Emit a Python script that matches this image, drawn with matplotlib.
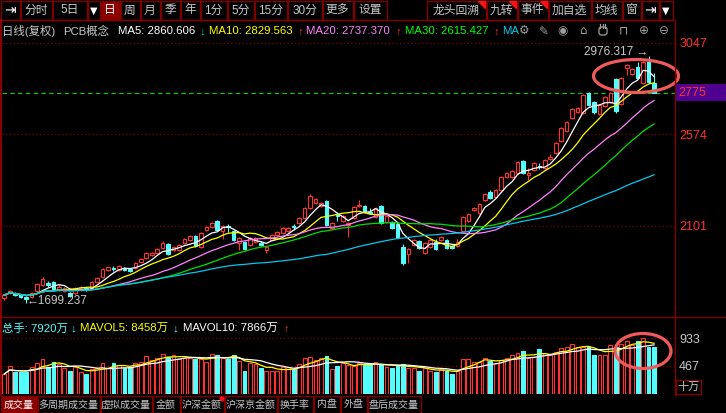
#Recreates a daily K-line screen (PCB concept index) with its volume pane
import matplotlib.pyplot as plt
from matplotlib.patches import Rectangle, Ellipse, Polygon, Circle, FancyBboxPatch
import numpy as np
import pandas as pd

plt.rcParams['font.family'] = ['Liberation Sans', 'Noto Sans CJK SC', 'DejaVu Sans']

W, H = 726, 413
UP = '#ff3232'
DOWN = '#54fcfc'
FRAME = '#800000'
GRAY = '#c8c8c8'

#Daily bars
opens = [1726, 1751, 1755, 1743, 1731, 1734, 1763, 1795, 1805, 1808,
         1769, 1765, 1752, 1752, 1773, 1779, 1777, 1812, 1834, 1872,
         1882, 1872, 1881, 1876, 1881, 1915, 1936, 1950, 1958, 1984,
         2005, 1975, 1975, 2012, 2027, 2048, 1991, 2079, 2094, 2125,
         2074, 2097, 2074, 2012, 2017, 2001, 2017, 2012, 1975, 2027,
         2053, 2063, 2074, 2097, 2115, 2141, 2193, 2218, 2203, 2229,
         2089, 2154, 2125, 2105, 2141, 2203, 2203, 2174, 2146, 2203,
         2120, 2120, 2110, 1991, 1955, 2001, 2022, 1960, 1991, 2017,
         2027, 2027, 1996, 1996, 2074, 2125, 2182, 2167, 2234, 2275,
         2249, 2286, 2353, 2353, 2374, 2436, 2363, 2389, 2412, 2399,
         2446, 2477, 2539, 2591, 2658, 2689, 2684, 2787, 2741, 2679,
         2720, 2742, 2860, 2730, 2916, 2885, 2921, 2839, 2947, 2839]
closes = [1743, 1763, 1743, 1731, 1721, 1751, 1800, 1824, 1795, 1775,
          1786, 1777, 1738, 1777, 1779, 1771, 1812, 1832, 1877, 1886,
          1877, 1893, 1874, 1867, 1910, 1927, 1958, 1961, 1979, 2010,
          1955, 1991, 2001, 2032, 2048, 1996, 2063, 2094, 2115, 2079,
          2100, 2092, 2027, 2037, 1981, 2037, 2037, 2001, 1991, 2053,
          2069, 2089, 2089, 2092, 2141, 2193, 2255, 2239, 2218, 2105,
          2115, 2149, 2151, 2115, 2198, 2208, 2177, 2169, 2193, 2115,
          2151, 2089, 2043, 1908, 1981, 2027, 1986, 2012, 2027, 1981,
          2043, 1986, 1986, 2017, 2146, 2162, 2192, 2213, 2265, 2244,
          2286, 2353, 2374, 2384, 2430, 2374, 2374, 2425, 2407, 2441,
          2456, 2529, 2606, 2637, 2704, 2710, 2777, 2725, 2689, 2725,
          2766, 2785, 2694, 2865, 2932, 2912, 2865, 2947, 2844, 2788]
highs = [1750, 1768, 1760, 1747, 1736, 1756, 1805, 1835, 1815, 1815,
         1792, 1782, 1757, 1782, 1787, 1785, 1816, 1838, 1882, 1890,
         1895, 1897, 1886, 1882, 1914, 1932, 1963, 1966, 1984, 2020,
         2010, 1996, 2006, 2037, 2053, 2053, 2068, 2099, 2120, 2130,
         2104, 2108, 2080, 2042, 2022, 2042, 2042, 2020, 1996, 2058,
         2074, 2094, 2094, 2110, 2146, 2198, 2263, 2245, 2223, 2234,
         2120, 2172, 2156, 2120, 2203, 2236, 2210, 2192, 2198, 2208,
         2156, 2126, 2115, 2006, 1986, 2032, 2027, 2017, 2032, 2030,
         2048, 2032, 2001, 2030, 2151, 2167, 2198, 2218, 2270, 2285,
         2291, 2358, 2380, 2390, 2436, 2442, 2400, 2430, 2425, 2446,
         2470, 2534, 2611, 2642, 2710, 2716, 2782, 2792, 2746, 2730,
         2771, 2790, 2865, 2870, 2937, 2918, 2945, 2952, 2976.317, 2890]
lows = [1718, 1746, 1738, 1725, 1699.237, 1729, 1758, 1790, 1784, 1770,
        1764, 1760, 1732, 1748, 1765, 1766, 1773, 1808, 1830, 1868,
        1866, 1868, 1868, 1862, 1877, 1911, 1931, 1946, 1954, 1980,
        1950, 1971, 1971, 2007, 2022, 1990, 1986, 2074, 2090, 2074,
        2032, 2070, 2020, 1975, 1976, 1996, 2012, 1996, 1960, 2022,
        2048, 2058, 2069, 2080, 2110, 2136, 2188, 2213, 2198, 2100,
        2084, 2125, 2120, 2043, 2136, 2198, 2172, 2160, 2141, 2110,
        2115, 2084, 2037, 1898, 1908, 1996, 1980, 1955, 1986, 1976,
        2022, 1980, 1980, 1991, 2069, 2120, 2177, 2162, 2229, 2239,
        2244, 2280, 2348, 2348, 2368, 2368, 2338, 2384, 2395, 2394,
        2441, 2472, 2534, 2586, 2653, 2684, 2679, 2720, 2679, 2674,
        2715, 2737, 2684, 2725, 2880, 2880, 2860, 2834, 2839, 2787]
#Volume in units of 十万 (hundred thousand)
volumes = [333, 467, 372, 372, 372, 445, 512, 585, 456, 540,
           500, 428, 383, 445, 372, 327, 411, 439, 512, 428,
           512, 484, 439, 445, 523, 540, 635, 568, 596, 663,
           624, 652, 585, 607, 607, 580, 585, 540, 669, 652,
           596, 585, 652, 557, 383, 523, 495, 439, 383, 383,
           383, 445, 445, 417, 495, 596, 613, 568, 596, 635,
           417, 472, 512, 484, 472, 512, 484, 495, 529, 484,
           456, 439, 472, 495, 439, 439, 383, 428, 383, 372,
           417, 383, 333, 383, 585, 585, 540, 540, 607, 551,
           523, 568, 607, 652, 680, 719, 596, 624, 753, 680,
           652, 697, 764, 781, 831, 792, 792, 792, 652, 652,
           652, 820, 792, 831, 887, 820, 892, 943, 792, 792]

priceTicks = [2101, 2574, 3047]
volTicks = [467, 933]
lastLabel = '2775'

maPeriods = [5, 10, 20, 30, 60]
maColors = ['#ffffff', '#ffff00', '#ff80ff', '#00e000', '#00c8f0']
volMaPeriods = [5, 10]
volMaColors = ['#ffff00', '#ffffff']

topButtons = [(0, 20, '⇥'), (20, 52, '分时'), (52, 87, '5日'), (87, 100, '▼'),
              (100, 120, '日'), (120, 140, '周'), (140, 160, '月'), (160, 180, '季'),
              (180, 200, '年'), (200, 227, '1分'), (227, 254, '5分'), (254, 287, '15分'),
              (287, 322, '30分'), (322, 353, '更多'), (353, 387, '设置'),
              (426, 486, '龙头回溯'), (486, 517, '九转'), (517, 548, '事件'),
              (548, 591, '加自选'), (591, 622, '均线'), (622, 641, '窗'),
              (641, 659, '⇥'), (659, 673, '▼')]
flagged = ['龙头回溯', '九转', '事件']
bottomTabs = [(0, 37, '成交量'), (37, 100, '多周期成交量'), (100, 152, '虚拟成交量'),
              (152, 180, '金额'), (180, 224, '沪深金额'), (224, 277, '沪深京金额'),
              (277, 313, '换手率'), (313, 340, '内盘'), (340, 367, '外盘'),
              (367, 421, '盘后成交量')]

infoLine = [(2, '日线(复权)', GRAY), (63, 'PCB概念', GRAY),
            (118, 'MA5: 2860.606', '#ffffff'), (199, '↓', '#00c8c8'),
            (209, 'MA10: 2829.563', '#ffff00'), (297, '↑', '#ff3030'),
            (306, 'MA20: 2737.370', '#ff80ff'), (395, '↑', '#ff3030'),
            (405, 'MA30: 2615.427', '#00ff00'), (493, '↑', '#ff3030'),
            (502, 'MA', '#00c8f0')]
volInfo = [(2, '总手: 7920万', DOWN), (70, '↓', DOWN),
           (80, 'MAVOL5: 8458万', '#ffff00'), (172, '↓', DOWN),
           (183, 'MAVOL10: 7866万', '#ffffff'), (283, '↑', '#ff3030')]
#Toolbar glyphs; the hand icon has no font glyph and is drawn as a shape
icons = [(524, '⚙'), (544, '✎'), (563, '◉'), (583, '⌂'),
         (623, '⊓'), (644, '⊕'), (664, '⊖')]


#Axes rectangle from pixel corners of the screenshot
def pxBox(x0, y0, x1, y1):
    return [x0 / W, 1 - y1 / H, (x1 - x0) / W, (y1 - y0) / H]


def styleAxes(ax, ticks, labelColor):
    ax.set_facecolor('black')
    for s in ax.spines.values():
        s.set_visible(False)
    ax.set_xticks([])
    ax.set_yticks(ticks)
    ax.yaxis.tick_right()
    ax.tick_params(axis='y', length=0, pad=3, labelsize=9, labelcolor=labelColor)
    ax.grid(axis='y', color=FRAME, linestyle=(0, (1, 2)), linewidth=0.9)
    ax.set_axisbelow(True)


def drawCandles(ax):
    x = np.arange(len(opens))
    o, c = np.array(opens), np.array(closes)
    hi, lo = np.array(highs), np.array(lows)
    up = c >= o
    for mask, color, face in ((up, UP, 'black'), (~up, DOWN, DOWN)):
        ax.vlines(x[mask], lo[mask], hi[mask], color=color, linewidth=0.8, zorder=2)
        ax.bar(x[mask], np.abs(c - o)[mask], bottom=np.minimum(o, c)[mask], width=0.66,
               facecolor=face, edgecolor=color, linewidth=0.8, zorder=3)
    s = pd.Series(closes)
    for n, color in zip(maPeriods, maColors):
        ax.plot(x, s.rolling(n, min_periods=1).mean(), color=color, linewidth=0.9, zorder=4)
    ax.axhline(closes[-1], color='#00d000', linestyle=(0, (4, 3)), linewidth=0.8, zorder=1)

    hiIdx, loIdx = int(np.argmax(hi)), int(np.argmin(lo))
    ax.annotate(f'{hi[hiIdx]:.3f} →', xy=(hiIdx, hi[hiIdx]), xytext=(0, 4),
                textcoords='offset pixels', ha='right', va='center', color=GRAY, fontsize=8.5, zorder=5)
    ax.annotate(f'←{lo[loIdx]:.3f}', xy=(loIdx, lo[loIdx]), xytext=(0, 2),
                textcoords='offset pixels', ha='left', va='center', color=GRAY, fontsize=8.5, zorder=5)

    #Current price tag on the right scale
    tr = ax.get_yaxis_transform()
    ax.add_patch(Rectangle((1.0, closes[-1] - 44), 51 / 673, 88, transform=tr,
                           facecolor='#500090', edgecolor='none', clip_on=False, zorder=5))
    ax.text(1.0 + 3 / 673, closes[-1], lastLabel, transform=tr, color=UP, fontsize=9,
            va='center', ha='left', zorder=6, clip_on=False)


def drawVolume(vax):
    x = np.arange(len(volumes))
    v = np.array(volumes)
    up = np.array(closes) >= np.array(opens)
    for mask, color, face in ((up, UP, 'black'), (~up, DOWN, DOWN)):
        vax.bar(x[mask], v[mask], width=0.7, facecolor=face, edgecolor=color,
                linewidth=0.8, zorder=3)
    s = pd.Series(volumes)
    for n, color in zip(volMaPeriods, volMaColors):
        vax.plot(x, s.rolling(n, min_periods=1).mean(), color=color, linewidth=0.9, zorder=4)


def drawFrame(ui):
    #Top toolbar
    for x0, x1, label in topButtons:
        selected = label == '日'
        ui.add_patch(Rectangle((x0 + 0.5, 0.5), x1 - x0 - 1, 19, facecolor='#8c0000' if selected else 'black',
                               edgecolor=FRAME, linewidth=1))
        icon = label in ('⇥', '▼')
        ui.text((x0 + x1) / 2, 10.5, label, ha='center', va='center',
                color='white' if (selected or icon) else GRAY,
                fontsize=10 if label == '⇥' else (7 if label == '▼' else 8.5),
                family=['DejaVu Sans'] if icon else ['Liberation Sans', 'Noto Sans CJK SC'])
        if label in flagged:
            ui.add_patch(Polygon([(x1 - 8, 1), (x1 - 1, 1), (x1 - 1, 8)], color='#ff1010'))
    ui.plot([0, 673], [20, 20], color=FRAME, linewidth=1)

    #Text rows above each pane
    for x, s, color in infoLine:
        ui.text(x, 31, s, color=color, fontsize=8.2, va='center', ha='left')
    for x, s in icons:
        ui.text(x, 31, s, color='#a0a0a0', fontsize=8.5, va='center', ha='center', family=['DejaVu Sans'])
    ui.add_patch(FancyBboxPatch((599, 27), 8, 8, boxstyle='round,pad=0,rounding_size=2.5',
                                fill=False, edgecolor='#a0a0a0', linewidth=0.9))
    for fx in (600, 602.5, 605):
        ui.plot([fx, fx], [24, 27.5], color='#a0a0a0', linewidth=0.9)
    for x, s, color in volInfo:
        ui.text(x, 328, s, color=color, fontsize=8.2, va='center', ha='left')

    #Pane borders
    ui.plot([1, 1], [20, 395], color='#a00000', linewidth=1.2)
    ui.plot([675, 675], [20, 395], color=FRAME, linewidth=1)
    ui.plot([0, 726], [317, 317], color=FRAME, linewidth=1)
    ui.add_patch(Rectangle((675.5, 379.5), 25, 14, facecolor='black', edgecolor=FRAME, linewidth=1))
    ui.text(688, 386.5, '十万', color=GRAY, fontsize=8, ha='center', va='center')

    #Bottom tabs
    for x0, x1, label in bottomTabs:
        selected = label == '成交量'
        ui.add_patch(Rectangle((x0 + 0.5, 395.5), x1 - x0 - 1, 17, facecolor='#8c0000' if selected else 'black',
                               edgecolor=FRAME, linewidth=1))
        ui.text((x0 + x1) / 2, 404.5, label, color='white' if selected else GRAY,
                fontsize=7.2, ha='center', va='center')
    ui.add_patch(Circle((222, 399), 1.8, color='#ff1010'))

    #Highlight circles
    ui.add_patch(Ellipse((636, 76), 85, 33, fill=False, edgecolor='#f05a5a', linewidth=2.3))
    ui.add_patch(Ellipse((643, 351), 56, 35, fill=False, edgecolor='#f05a5a', linewidth=2.3))


if __name__ == "__main__":
    fig = plt.figure(figsize=(W / 100, H / 100), dpi=100, facecolor='black')

    ax = fig.add_axes(pxBox(2, 20, 675, 317))
    styleAxes(ax, priceTicks, UP)
    ax.set_xlim(-0.42, 122.84)
    ax.set_ylim(1629.0, 3164.5)
    drawCandles(ax)

    vax = fig.add_axes(pxBox(2, 317, 675, 393.8))
    styleAxes(vax, volTicks, GRAY)
    vax.set_xlim(-0.42, 122.84)
    vax.set_ylim(0, 1290)
    drawVolume(vax)

    ui = fig.add_axes([0, 0, 1, 1], zorder=10)
    ui.set_xlim(0, W)
    ui.set_ylim(H, 0)
    ui.axis('off')
    ui.patch.set_alpha(0)
    drawFrame(ui)

    fig.savefig('out.png', dpi=100, facecolor='black')
